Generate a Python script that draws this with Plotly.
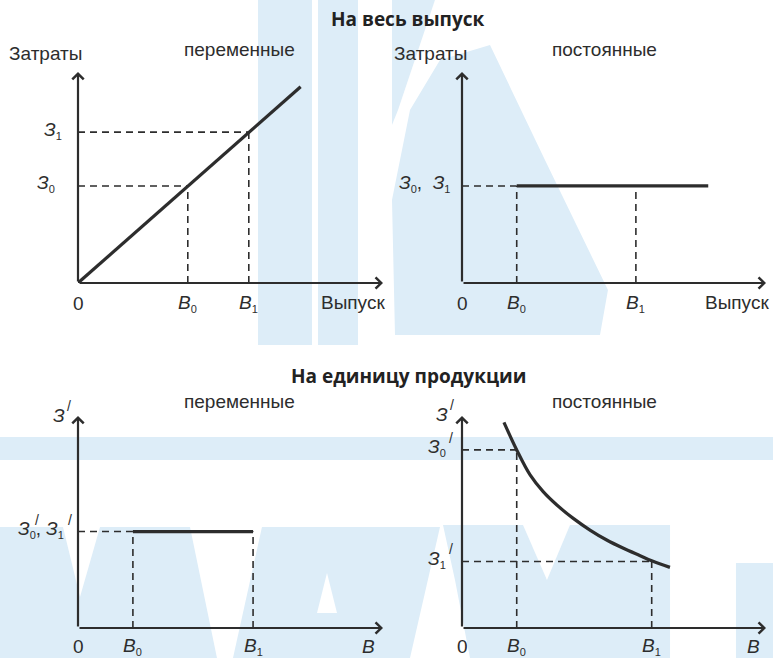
import plotly.graph_objects as go

W, H = 773, 658

# ------------------------------------------------------------
# data (axis units: 0..10 along each drawn axis)
# ------------------------------------------------------------

# total variable costs
var_total_output = [0, 3.6, 5.6, 7.3]
var_total_cost = [0, 4.6, 7.15, 9.3]
var_total_B = [3.6, 5.6]
var_total_Z = [4.6, 7.15]

# total fixed costs
fix_total_B = [1.8, 5.72]
fix_total_level = 4.6
fix_total_end = 8.1

# variable costs per unit
var_unit_B = [1.8, 5.74]
var_unit_level = 4.55

# fixed costs per unit
fix_unit_output = [1.38, 1.80, 2.24, 2.67, 3.12, 3.66, 4.21, 4.76, 5.31, 5.86, 6.24, 6.84]
fix_unit_cost = [9.70, 8.40, 7.22, 6.43, 5.80, 5.17, 4.62, 4.15, 3.76, 3.41, 3.17, 2.86]
fix_unit_B = [1.80, 6.24]
fix_unit_Z = [8.40, 3.14]

INK = "#2d2d2d"
WM = "#ddedf8"
FONT = "Liberation Sans, Arial, sans-serif"


def P(x, y):
    # pixel -> paper
    return x / W, 1 - y / H


fig = go.Figure()

# subplot domains (pixel positions of the drawn axes)
panels = {
    1: ((78, 383), (283, 72)),
    2: ((462, 766), (283, 72)),
    3: ((78, 383), (628, 416)),
    4: ((462, 766), (628, 416)),
}
for i, ((x0, x1), (y0, y1)) in panels.items():
    sx = "" if i == 1 else str(i)
    fig.layout["xaxis" + sx] = dict(domain=[x0 / W, x1 / W], range=[0, 10], visible=False,
                                    anchor="y" + sx, fixedrange=True)
    fig.layout["yaxis" + sx] = dict(domain=[1 - y0 / H, 1 - y1 / H], range=[0, 10], visible=False,
                                    anchor="x" + sx, fixedrange=True)


def ax(i):
    return ("x", "y") if i == 1 else ("x%d" % i, "y%d" % i)


def solid(i, xs, ys, shape="linear"):
    xr, yr = ax(i)
    fig.add_trace(go.Scatter(x=xs, y=ys, mode="lines", xaxis=xr, yaxis=yr,
                             line=dict(color=INK, width=3.2, shape=shape), hoverinfo="skip"))


def dashed(i, xs, ys):
    xr, yr = ax(i)
    fig.add_trace(go.Scatter(x=xs, y=ys, mode="lines", xaxis=xr, yaxis=yr,
                             line=dict(color=INK, width=1.6, dash="7px,5px"), hoverinfo="skip"))


# ---- panel 1
for b, z in zip(var_total_B, var_total_Z):
    dashed(1, [0, b], [z, z])
    dashed(1, [b, b], [0, z])
solid(1, var_total_output, var_total_cost)

# ---- panel 2
dashed(2, [0, fix_total_B[0]], [fix_total_level] * 2)
for b in fix_total_B:
    dashed(2, [b, b], [0, fix_total_level])
solid(2, [fix_total_B[0], fix_total_end], [fix_total_level] * 2)

# ---- panel 3
dashed(3, [0, var_unit_B[0]], [var_unit_level] * 2)
for b in var_unit_B:
    dashed(3, [b, b], [0, var_unit_level])
solid(3, var_unit_B, [var_unit_level] * 2)

# ---- panel 4
for b, z in zip(fix_unit_B, fix_unit_Z):
    dashed(4, [0, b], [z, z])
    dashed(4, [b, b], [0, z])
solid(4, fix_unit_output, fix_unit_cost, shape="spline")

ann = []

# axes with arrows
for i in panels:
    xr, yr = ax(i)
    for tx, ty in ((10, 0), (0, 10)):
        ann.append(dict(x=tx, y=ty, ax=0, ay=0, xref=xr, yref=yr, axref=xr, ayref=yr,
                        text="", showarrow=True, arrowhead=4, arrowsize=1,
                        arrowwidth=2.2, arrowcolor=INK, standoff=0, startstandoff=0))


def text(s, x, y, size=19, **kw):
    px, py = P(x, y)
    ann.append(dict(x=px, y=py, xref="paper", yref="paper", text=s, showarrow=False,
                    xanchor="center", yanchor="middle",
                    font=dict(family=FONT, size=size, color=INK), **kw))


def dtext(i, s, x, y, size=19, **kw):
    xr, yr = ax(i)
    kw.setdefault("xanchor", "center")
    ann.append(dict(x=x, y=y, xref=xr, yref=yr, text=s, showarrow=False, yanchor="middle",
                    font=dict(family=FONT, size=size, color=INK), **kw))


def sub(s):
    return "<sub><span style='font-size:11px'>%s</span></sub>" % s


def Z(s):
    return "<i>З</i>" + sub(s)


def B(s):
    return "<i>B</i>" + sub(s)


PRIME = "<span style='font-size:14px'>/</span>"


def zprime(i, s, y, right, prime_x, label_tail=""):
    # З with subscript and a prime written above the subscript (right, prime_x in pixels)
    x0 = panels[i][0][0]
    dtext(i, Z(s) + label_tail, 0, y, xanchor="right", xshift=right - x0, yshift=2)
    dtext(i, PRIME, 0, y, xshift=prime_x - x0, yshift=12)


# titles
TITLE = dict(family="Open Sans, sans-serif", size=19, color="#222")
for s, y in (("<b>На весь выпуск</b>", 19), ("<b>На единицу продукции</b>", 376)):
    px, py = P(408, y)
    ann.append(dict(x=px, y=py, xref="paper", yref="paper", text=s, showarrow=False,
                    xanchor="center", yanchor="middle", font=TITLE))

# panel headers
text("Затраты", 45, 53)
text("переменные", 239, 50)
text("Затраты", 430, 53)
text("постоянные", 604, 50)
text("<i>З</i>", 59, 415)
text(PRIME, 69, 406)
text("переменные", 239, 402)
text("<i>З</i>", 442, 414)
text(PRIME, 452, 405)
text("постоянные", 604, 402)

# x labels
for i, bs in ((1, var_total_B), (2, fix_total_B), (3, var_unit_B), (4, fix_unit_B)):
    dy = -20 if i < 3 else -18
    dtext(i, "0", 0, 0, yshift=dy)
    dtext(i, B(0), bs[0], 0, yshift=dy)
    dtext(i, B(1), bs[1], 0, yshift=dy)
text("Выпуск", 353, 302)
text("Выпуск", 737, 302)
text("<i>B</i>", 368, 646)
text("<i>B</i>", 753, 646)

# y labels
dtext(1, Z(1), 0, var_total_Z[1], xanchor="right", xshift=-14, yshift=2)
dtext(1, Z(0), 0, var_total_Z[0], xanchor="right", xshift=-21, yshift=2)
dtext(2, Z(0) + ",  " + Z(1), 0, fix_total_level, xanchor="right", xshift=-10, yshift=2)
zprime(3, 0, var_unit_level, 43, 37, label_tail=",")
zprime(3, 1, var_unit_level, 66, 70)
zprime(4, 0, fix_unit_Z[0], 448, 451)
zprime(4, 1, fix_unit_Z[1], 448, 451)

# ------------------------------------------------------------
# faint background watermark
# ------------------------------------------------------------
shapes = []


def poly(pts, color=WM):
    path = "M" + " L".join("%.4f,%.4f" % P(x, y) for x, y in pts) + " Z"
    shapes.append(dict(type="path", path=path, xref="paper", yref="paper",
                       fillcolor=color, line=dict(width=0), layer="below"))


poly([(258, 0), (312, 0), (312, 345), (258, 345)])
poly([(318, 0), (358, 0), (358, 345), (318, 345)])
poly([(392, 0), (435, 0), (398, 110), (392, 125)])
poly([(410, 110), (440, 60), (490, 45), (545, 160), (608, 290), (600, 335), (395, 335), (392, 200)])
poly([(0, 437), (773, 437), (773, 460), (0, 460)])
poly([(0, 527), (63, 527), (80, 597), (100, 527), (190, 527), (217, 658), (0, 658)])
poly([(262, 527), (440, 527), (410, 658), (233, 658)])
poly([(317, 613), (337, 613), (327, 573)], "white")
poly([(443, 525), (670, 525), (670, 658), (470, 658), (455, 580)])
poly([(523, 525), (570, 525), (547, 580)], "white")
poly([(736, 563), (773, 563), (773, 658), (736, 658)])

fig.update_layout(
    width=W, height=H,
    margin=dict(l=0, r=0, t=0, b=0),
    paper_bgcolor="white", plot_bgcolor="rgba(0,0,0,0)",
    showlegend=False,
    annotations=ann,
    shapes=shapes,
)

fig.write_html("out.html", config={"displayModeBar": False},
               post_script="document.body.style.margin='0px';")
